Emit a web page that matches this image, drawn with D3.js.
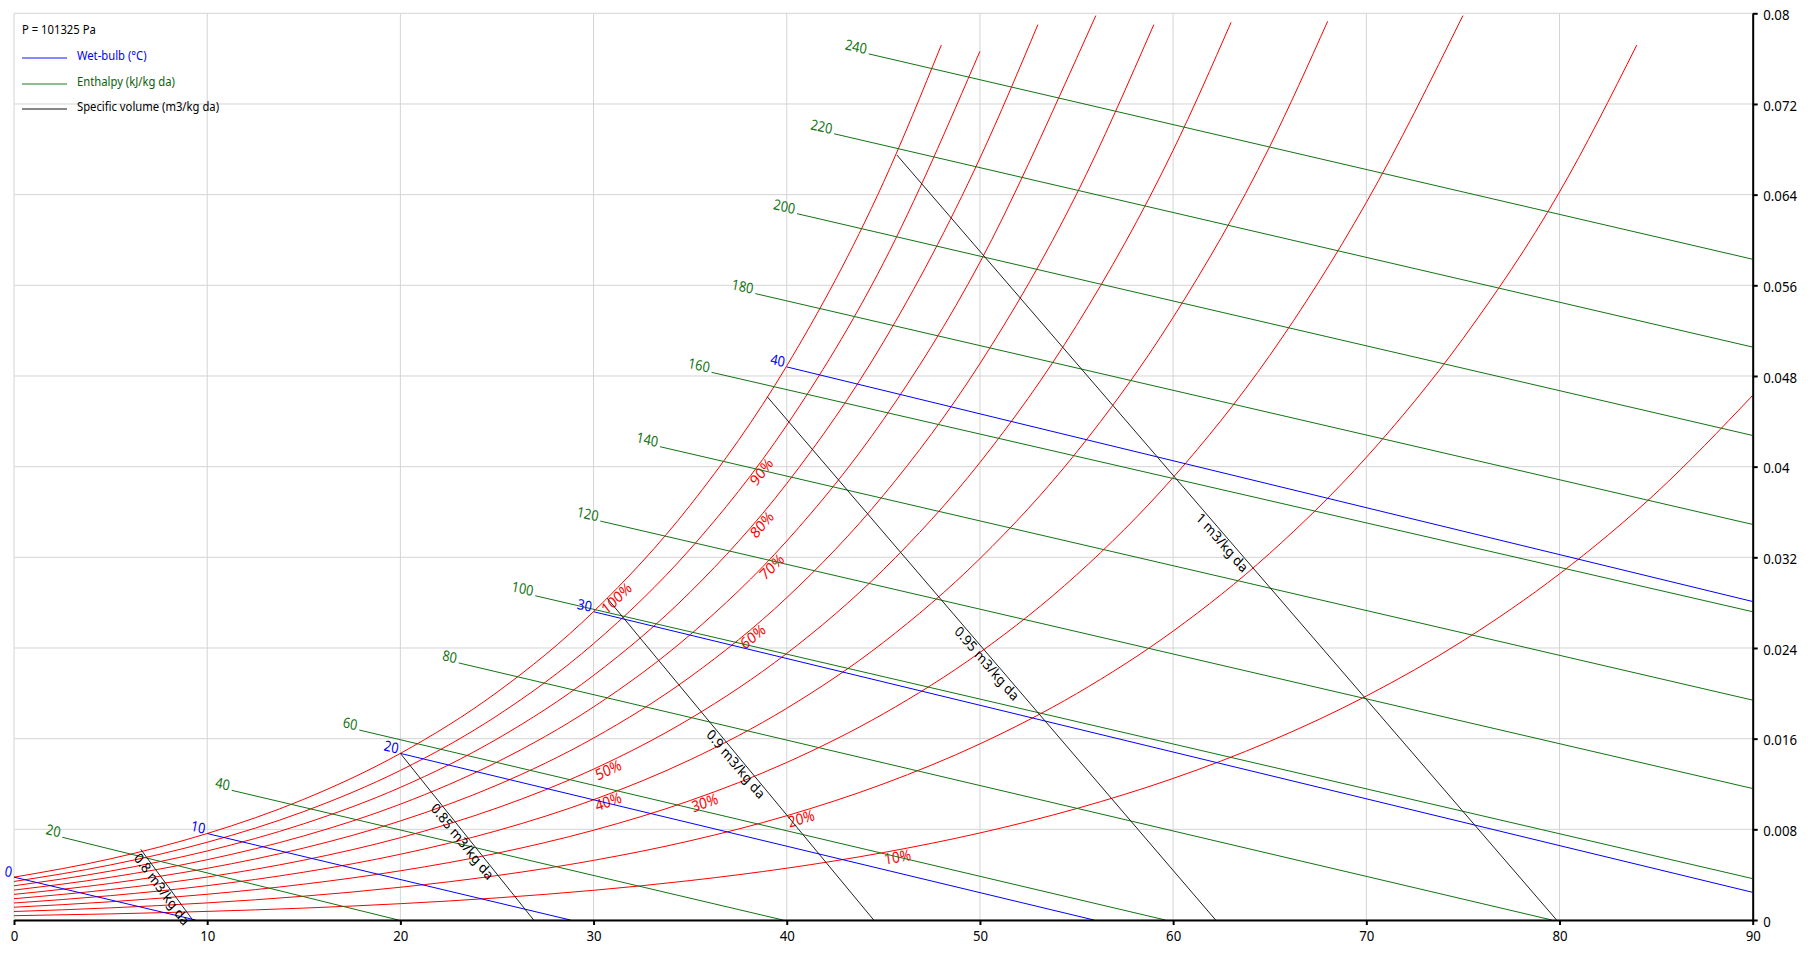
<!DOCTYPE html>
<html>
<head>
<meta charset="utf-8">
<script src="https://cdn.jsdelivr.net/npm/d3@7"></script>
<style>
  body { margin: 0; background: #fff; }
  text { font-family: "Noto Sans", "Open Sans", sans-serif; }
</style>
</head>
<body>
<svg id="chart" width="1815" height="953"></svg>
<script>
// axes
var xTicks = [0, 10, 20, 30, 40, 50, 60, 70, 80, 90];
var yTicks = [0, 0.008, 0.016, 0.024, 0.032, 0.04, 0.048, 0.056, 0.064, 0.072, 0.08];
var yTickLabels = ["0", "0.008", "0.016", "0.024", "0.032", "0.04", "0.048", "0.056", "0.064", "0.072", "0.08"];

var pressureText = "P = 101325 Pa";
var legendLabels = ["Wet-bulb (°C)", "Enthalpy (kJ/kg da)", "Specific volume (m3/kg da)"];

// relative humidity curves, [dry bulb °C, humidity ratio kg/kg da]
var rh10 = [[0,0.00038],[5,0.00054],[10,0.00076],[15,0.00105],[20,0.00144],[25,0.00195],[30,0.00262],[35,0.00348],[40,0.00457],[45,0.00595],[50,0.00768],[55,0.00983],[60,0.01249],[65,0.01576],[70,0.01976],[75,0.02463],[80,0.03054],[85,0.03768],[90,0.04629]];
var rh20 = [[0,0.00075],[5,0.00107],[10,0.00151],[15,0.00210],[20,0.00289],[25,0.00392],[30,0.00526],[35,0.00699],[40,0.00920],[45,0.01201],[50,0.01554],[55,0.01997],[60,0.02549],[65,0.03235],[70,0.04082],[75,0.05129],[80,0.06423],[84,0.0772]];
var rh30 = [[0,0.00113],[5,0.00161],[10,0.00227],[15,0.00316],[20,0.00434],[25,0.00589],[30,0.00792],[35,0.01054],[40,0.01390],[45,0.01819],[50,0.02361],[55,0.03045],[60,0.03904],[65,0.04981],[70,0.06331],[75,0.0798]];
var rh40 = [[0,0.00150],[5,0.00215],[10,0.00303],[15,0.00422],[20,0.00580],[25,0.00788],[30,0.01061],[35,0.01414],[40,0.01868],[45,0.02449],[50,0.03189],[55,0.04127],[60,0.05317],[65,0.06824],[68,0.0793]];
var rh50 = [[0,0.00188],[5,0.00269],[10,0.00379],[15,0.00528],[20,0.00726],[25,0.00988],[30,0.01331],[35,0.01777],[40,0.02352],[45,0.03091],[50,0.04037],[55,0.05246],[60,0.06791],[63,0.0792]];
var rh60 = [[0,0.00226],[5,0.00323],[10,0.00456],[15,0.00635],[20,0.00874],[25,0.01190],[30,0.01605],[35,0.02145],[40,0.02844],[45,0.03747],[50,0.04909],[55,0.06404],[59,0.0790]];
var rh70 = [[0,0.00264],[5,0.00377],[10,0.00532],[15,0.00742],[20,0.01022],[25,0.01393],[30,0.01880],[35,0.02517],[40,0.03344],[45,0.04415],[50,0.05803],[55,0.07601],[56,0.0798]];
var rh80 = [[0,0.00302],[5,0.00432],[10,0.00609],[15,0.00849],[20,0.01170],[25,0.01597],[30,0.02158],[35,0.02893],[40,0.03851],[45,0.05098],[50,0.06722],[53,0.0790]];
var rh90 = [[0,0.00340],[5,0.00486],[10,0.00686],[15,0.00957],[20,0.01320],[25,0.01802],[30,0.02438],[35,0.03273],[40,0.04366],[45,0.05795],[50,0.07665]];
var rh100 = [[0,0.00378],[5,0.00540],[10,0.00763],[15,0.01065],[20,0.01470],[25,0.02009],[30,0.02721],[35,0.03659],[40,0.04889],[45,0.06506],[48,0.0772]];
var rhLabels = ["10%", "20%", "30%", "40%", "50%", "60%", "70%", "80%", "90%", "100%"];
var rhLabelTemps = [45, 40, 35, 30, 30, 37.5, 38.5, 38, 38, 30.3];

// wet-bulb lines, start on saturation, end on axis
var wetBulbLabels = ["0", "10", "20", "30", "40"];
var wetBulbStart = [[0,0.00378],[10,0.00763],[20,0.0147],[30,0.0272],[40,0.0488]];
var wetBulbEnd = [[9.4,0],[28.8,0],[55.9,0],[90,0.00244],[90,0.0281]];

// enthalpy lines
var enthalpyLabels = ["20", "40", "60", "80", "100", "120", "140", "160", "180", "200", "220", "240"];
var enthalpyStart = [[2.5,0.0073],[11.27,0.01144],[17.87,0.01676],[23.02,0.02268],[26.98,0.02861],[30.35,0.0352],[33.44,0.04176],[36.11,0.04832],[38.37,0.05527],[40.53,0.06232],[42.45,0.06937],[44.24,0.07642]];
var enthalpyEnd = [[19.9,0],[39.8,0],[59.6,0],[79.6,0],[90,0.00365],[90,0.0116],[90,0.0194],[90,0.0272],[90,0.0349],[90,0.04275],[90,0.05055],[90,0.0583]];

// specific volume lines
var volumeLabels = ["0.8 m3/kg da", "0.85 m3/kg da", "0.9 m3/kg da", "0.95 m3/kg da", "1 m3/kg da"];
var volumeStart = [[6.56,0.00624],[20,0.0147],[30.7,0.0284],[38.99,0.04617],[45.7,0.0675]];
var volumeEnd = [[9.25,0],[26.9,0],[44.5,0],[62.2,0],[79.85,0]];

var svg = d3.select("#chart");
var x = d3.scaleLinear().domain([0, 90]).range([14, 1752.7]);
var y = d3.scaleLinear().domain([0, 0.08]).range([920, 13.3]);

var red = "#ff0000", blue = "#0000ff", green = "#137313", dark = "#222";
var squeeze = 0.88; // text in the original is a bit narrow

// transform for text placed at (px,py) and running along direction (dx,dy)
function along(px, py, dx, dy) {
	var a = Math.atan2(dy, dx / squeeze) * 180 / Math.PI;
	return "translate(" + px + "," + py + ") scale(" + squeeze + ",1) rotate(" + a + ")";
}

// grid
var grid = svg.append("g").attr("stroke", "#d4d4d4").attr("stroke-width", 1);
grid.selectAll("line.v").data(xTicks).join("line").attr("class", "v")
	.attr("x1", function(d){return x(d);}).attr("x2", function(d){return x(d);})
	.attr("y1", y(0)).attr("y2", y(0.08));
grid.selectAll("line.h").data(yTicks).join("line").attr("class", "h")
	.attr("x1", x(0)).attr("x2", x(90))
	.attr("y1", function(d){return y(d);}).attr("y2", function(d){return y(d);});

var line = d3.line().x(function(d){return x(d[0]);}).y(function(d){return y(d[1]);});
var smooth = d3.line().x(function(d){return x(d[0]);}).y(function(d){return y(d[1]);}).curve(d3.curveMonotoneX);

// straight families
function straightLines(starts, ends, labels, color, size) {
	var g = svg.append("g");
	g.selectAll("path").data(starts).join("path")
		.attr("d", function(d, i){return line([d, ends[i]]);})
		.attr("fill", "none").attr("stroke", color).attr("stroke-width", 1);
	g.selectAll("text").data(labels).join("text")
		.attr("transform", function(d, i){
			var s = starts[i], e = ends[i];
			return along(x(s[0]), y(s[1]), x(e[0]) - x(s[0]), y(e[1]) - y(s[1]));
		})
		.attr("x", -3).attr("y", 1)
		.attr("text-anchor", "end")
		.attr("font-size", size)
		.attr("fill", color)
		.text(function(d){return d;});
}

// RH curves
var rhCurves = [rh10, rh20, rh30, rh40, rh50, rh60, rh70, rh80, rh90, rh100];
var rhG = svg.append("g");
var rhPaths = rhG.selectAll("path").data(rhCurves).join("path")
	.attr("d", smooth).attr("fill", "none").attr("stroke", red).attr("stroke-width", 1);

rhPaths.each(function(d, i) {
	var node = this, tx = x(rhLabelTemps[i]);
	var lo = 0, hi = node.getTotalLength();
	for (var k = 0; k < 40; k++) {
		var mid = (lo + hi) / 2;
		if (node.getPointAtLength(mid).x < tx) lo = mid; else hi = mid;
	}
	var p1 = node.getPointAtLength(lo), p2 = node.getPointAtLength(lo + 3);
	rhG.append("text")
		.attr("transform", along(p1.x, p1.y, p2.x - p1.x, p2.y - p1.y))
		.attr("dy", "0.8em")
		.attr("font-size", 15.5)
		.attr("fill", red)
		.text(rhLabels[i]);
});

straightLines(enthalpyStart, enthalpyEnd, enthalpyLabels, green, 14.5);
straightLines(wetBulbStart, wetBulbEnd, wetBulbLabels, blue, 14.5);

// specific volume
var vg = svg.append("g");
vg.selectAll("path").data(volumeStart).join("path")
	.attr("d", function(d, i){return line([d, volumeEnd[i]]);})
	.attr("fill", "none").attr("stroke", dark).attr("stroke-width", 1);
vg.selectAll("text").data(volumeLabels).join("text")
	.attr("transform", function(d, i){
		var s = volumeStart[i], e = volumeEnd[i];
		var mx = (x(s[0]) + x(e[0])) / 2, my = (y(s[1]) + y(e[1])) / 2;
		return along(mx, my, x(e[0]) - x(s[0]), y(e[1]) - y(s[1]));
	})
	.attr("dy", "0.85em")
	.attr("text-anchor", "middle")
	.attr("font-size", 14.5)
	.attr("fill", "#000")
	.text(function(d){return d;});

// axes
var xAxis = svg.append("g").attr("transform", "translate(0," + y(0) + ")")
	.call(d3.axisBottom(x).tickValues(xTicks).tickSize(5).tickSizeOuter(0).tickPadding(5));
var yAxis = svg.append("g").attr("transform", "translate(" + x(90) + ",0)")
	.call(d3.axisRight(y).tickValues(yTicks).tickSize(5).tickSizeOuter(0).tickPadding(5)
		.tickFormat(function(d, i){return yTickLabels[i];}));
[xAxis, yAxis].forEach(function(ax) {
	ax.select(".domain").attr("stroke", "#000").attr("stroke-width", 2);
	ax.selectAll(".tick line").attr("stroke", "#000").attr("stroke-width", 2);
	ax.selectAll(".tick text").attr("font-size", 15).attr("fill", "#000")
		.attr("transform", "scale(" + squeeze + ",1)")
		.style("font-family", "'Noto Sans', sans-serif");
});
yAxis.selectAll(".tick text").attr("x", 10.6 / squeeze).attr("dy", "0.42em");

// legend
var legend = svg.append("g").attr("transform", "scale(" + squeeze + ",1)");
var lx = function(v){return v / squeeze;};
legend.append("text").attr("x", lx(22)).attr("y", 34).attr("font-size", 12.8).attr("fill", "#000").text(pressureText);
var legendColors = [blue, green, "#000"];
var legendRows = [58, 84, 109];
legend.selectAll("line").data(legendLabels).join("line")
	.attr("x1", lx(22)).attr("x2", lx(67))
	.attr("y1", function(d, i){return legendRows[i];}).attr("y2", function(d, i){return legendRows[i];})
	.attr("stroke", function(d, i){return legendColors[i];}).attr("stroke-width", 1);
legend.selectAll("text.item").data(legendLabels).join("text").attr("class", "item")
	.attr("x", lx(77))
	.attr("y", function(d, i){return legendRows[i] - 2;})
	.attr("dy", "0.35em")
	.attr("font-size", 12.8)
	.attr("fill", function(d, i){return i == 1 ? "#0b5e0b" : legendColors[i];})
	.text(function(d){return d;});
</script>
</body>
</html>
